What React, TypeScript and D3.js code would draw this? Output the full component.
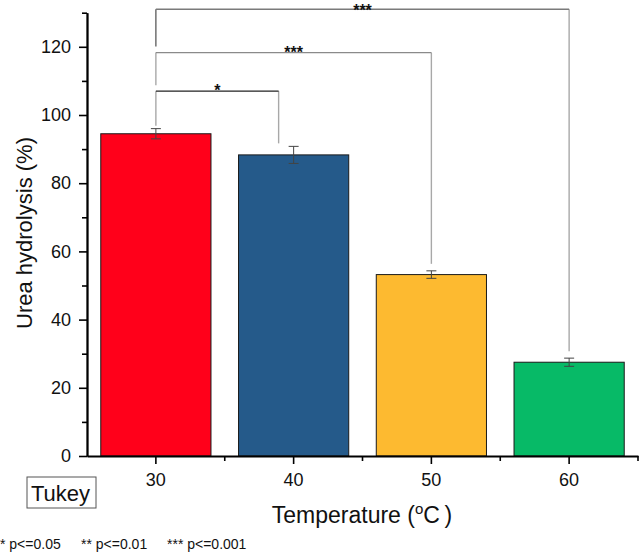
import React, { useRef, useEffect } from 'react';
import * as d3 from 'd3';

// data
const temperatures = ['30', '40', '50', '60'];
const hydrolysis = [94.5, 88.3, 53.2, 27.5];
const errors = [1.5, 2.5, 1.1, 1.2];
const barColors = ['#ff001a', '#255a8a', '#fdba30', '#07ba67'];

// Tukey comparisons (from, to, label, bracket level in %)
const compFrom = ['30', '30', '30'];
const compTo = ['40', '50', '60'];
const compLabels = ['*', '***', '***'];
const compLevels = [107, 118.3, 131];

const yMajorTicks = [0, 20, 40, 60, 80, 100, 120];
const yMinorTicks = [10, 30, 50, 70, 90, 110, 130];

const footnotes = ['* p<=0.05', '** p<=0.01', '*** p<=0.001'];

const FONT = '"Liberation Sans", Arial, sans-serif';

const App: React.FC = () => {
  const svgRef = useRef<SVGSVGElement | null>(null);

  useEffect(() => {
    d3.select(svgRef.current).selectAll('*').remove();

    const width = 640;
    const height = 553;
    const left = 87;
    const right = 638;
    const top = 12.7;
    const bottom = 456;

    const svg = d3.select(svgRef.current)
      .attr('width', width)
      .attr('height', height)
      .style('background', '#fff')
      .style('font-family', FONT);

    // scales
    const x = d3.scaleBand<string>()
      .domain(temperatures)
      .range([left, right])
      .paddingInner(0.2)
      .paddingOuter(0.1);

    const y = d3.scaleLinear()
      .domain([0, 130])
      .range([bottom, top]);

    const cx = (t: string) => (x(t) as number) + x.bandwidth() / 2;

    // bars
    svg.append('g')
      .selectAll('rect')
      .data(hydrolysis)
      .enter()
      .append('rect')
      .attr('x', (_, i) => x(temperatures[i]) as number)
      .attr('y', d => y(d))
      .attr('width', x.bandwidth())
      .attr('height', d => bottom - y(d))
      .attr('fill', (_, i) => barColors[i])
      .attr('stroke', '#1a1a1a')
      .attr('stroke-width', 1);

    // error bars
    const err = svg.append('g')
      .attr('stroke', '#444')
      .attr('stroke-width', 1)
      .attr('fill', 'none');
    hydrolysis.forEach((v, i) => {
      const c = cx(temperatures[i]);
      const y1 = y(v + errors[i]);
      const y0 = y(v - errors[i]);
      err.append('line').attr('x1', c).attr('x2', c).attr('y1', y1).attr('y2', y0);
      err.append('line').attr('x1', c - 5).attr('x2', c + 5).attr('y1', y1).attr('y2', y1);
      err.append('line').attr('x1', c - 5).attr('x2', c + 5).attr('y1', y0).attr('y2', y0);
    });

    // significance brackets
    const lineColors = ['#222', '#8a8a8a', '#7a7a7a'];
    const legColor = '#a8a8a8';
    const rightShift = [-15, 0, 0];
    const brackets = svg.append('g').attr('fill', 'none').attr('stroke-width', 1.4);
    compLevels.forEach((lvl, i) => {
      const yl = y(lvl);
      const fi = temperatures.indexOf(compFrom[i]);
      const ti = temperatures.indexOf(compTo[i]);
      const x1 = cx(compFrom[i]);
      const x2 = cx(compTo[i]) + rightShift[i];
      const fromTop = y(hydrolysis[fi] + errors[fi]);
      const toTop = y(hydrolysis[ti] + errors[ti]);
      const nextLvl = i > 0 ? y(compLevels[i - 1]) - 6 : fromTop - 3;
      brackets.append('line')
        .attr('x1', x1).attr('x2', x1).attr('y1', yl).attr('y2', Math.min(nextLvl, fromTop - 3))
        .attr('stroke', i === 2 ? '#666' : legColor);
      brackets.append('line')
        .attr('x1', x2).attr('x2', x2).attr('y1', yl).attr('y2', toTop - (i === 0 ? 3 : 7))
        .attr('stroke', legColor);
      brackets.append('line')
        .attr('x1', x1).attr('x2', x2).attr('y1', yl).attr('y2', yl)
        .attr('stroke', lineColors[i]);
      svg.append('text')
        .attr('x', (x1 + x2) / 2)
        .attr('y', Math.max(yl + 5, 15.5))
        .attr('text-anchor', 'middle')
        .attr('font-size', 16)
        .attr('font-weight', 'bold')
        .attr('fill', '#111')
        .text(compLabels[i]);
    });

    // axes
    const yAxis = svg.append('g')
      .attr('transform', `translate(${left},0)`)
      .call(d3.axisLeft(y).tickValues(yMajorTicks).tickSize(8).tickPadding(8).tickSizeOuter(0));
    svg.append('g')
      .attr('transform', `translate(${left},0)`)
      .call(d3.axisLeft(y).tickValues(yMinorTicks).tickSize(5).tickFormat(() => '').tickSizeOuter(0));

    const xAxis = svg.append('g')
      .attr('transform', `translate(0,${bottom})`)
      .call(d3.axisBottom(x).tickSize(8).tickPadding(9).tickSizeOuter(0));
    const bounds = temperatures.map(t => (x(t) as number) + x.bandwidth() + x.step() * x.paddingInner() / 2);
    svg.append('g')
      .selectAll('line')
      .data(bounds)
      .enter()
      .append('line')
      .attr('x1', d => d).attr('x2', d => d)
      .attr('y1', bottom).attr('y2', bottom + 5)
      .attr('stroke', '#000').attr('stroke-width', 1.6);

    svg.selectAll('.domain').attr('stroke', '#000').attr('stroke-width', 1.8);
    svg.selectAll('.tick line').attr('stroke', '#000').attr('stroke-width', 1.6);
    [yAxis, xAxis].forEach(a => a.selectAll('text')
      .attr('font-size', 18)
      .attr('font-family', FONT)
      .attr('fill', '#111'));

    // axis titles
    svg.append('text')
      .attr('transform', `translate(32,233) rotate(-90)`)
      .attr('text-anchor', 'middle')
      .attr('font-size', 22)
      .attr('fill', '#111')
      .text('Urea hydrolysis (%)');

    const xt = svg.append('text')
      .attr('x', 362)
      .attr('y', 523)
      .attr('text-anchor', 'middle')
      .attr('font-size', 23)
      .attr('fill', '#111');
    xt.append('tspan').text('Temperature (');
    xt.append('tspan').attr('font-size', 15).attr('dy', -9).text('o');
    xt.append('tspan').attr('dy', 9).text('C\u2009)');

    // Tukey box
    svg.append('rect')
      .attr('x', 27).attr('y', 477).attr('width', 69).attr('height', 31)
      .attr('fill', 'none').attr('stroke', '#555').attr('stroke-width', 1);
    svg.append('text')
      .attr('x', 31).attr('y', 501)
      .attr('font-size', 22)
      .attr('fill', '#111')
      .text('Tukey');

    // footnote
    const noteX = [0, 81, 167];
    footnotes.forEach((f, i) => {
      svg.append('text')
        .attr('x', noteX[i]).attr('y', 549)
        .attr('font-size', 14)
        .attr('fill', '#111')
        .text(f);
    });
  }, []);

  return (
    <div style={{ position: 'absolute', left: 0, top: 0 }}>
      <svg ref={svgRef}></svg>
    </div>
  );
};

export default App;
